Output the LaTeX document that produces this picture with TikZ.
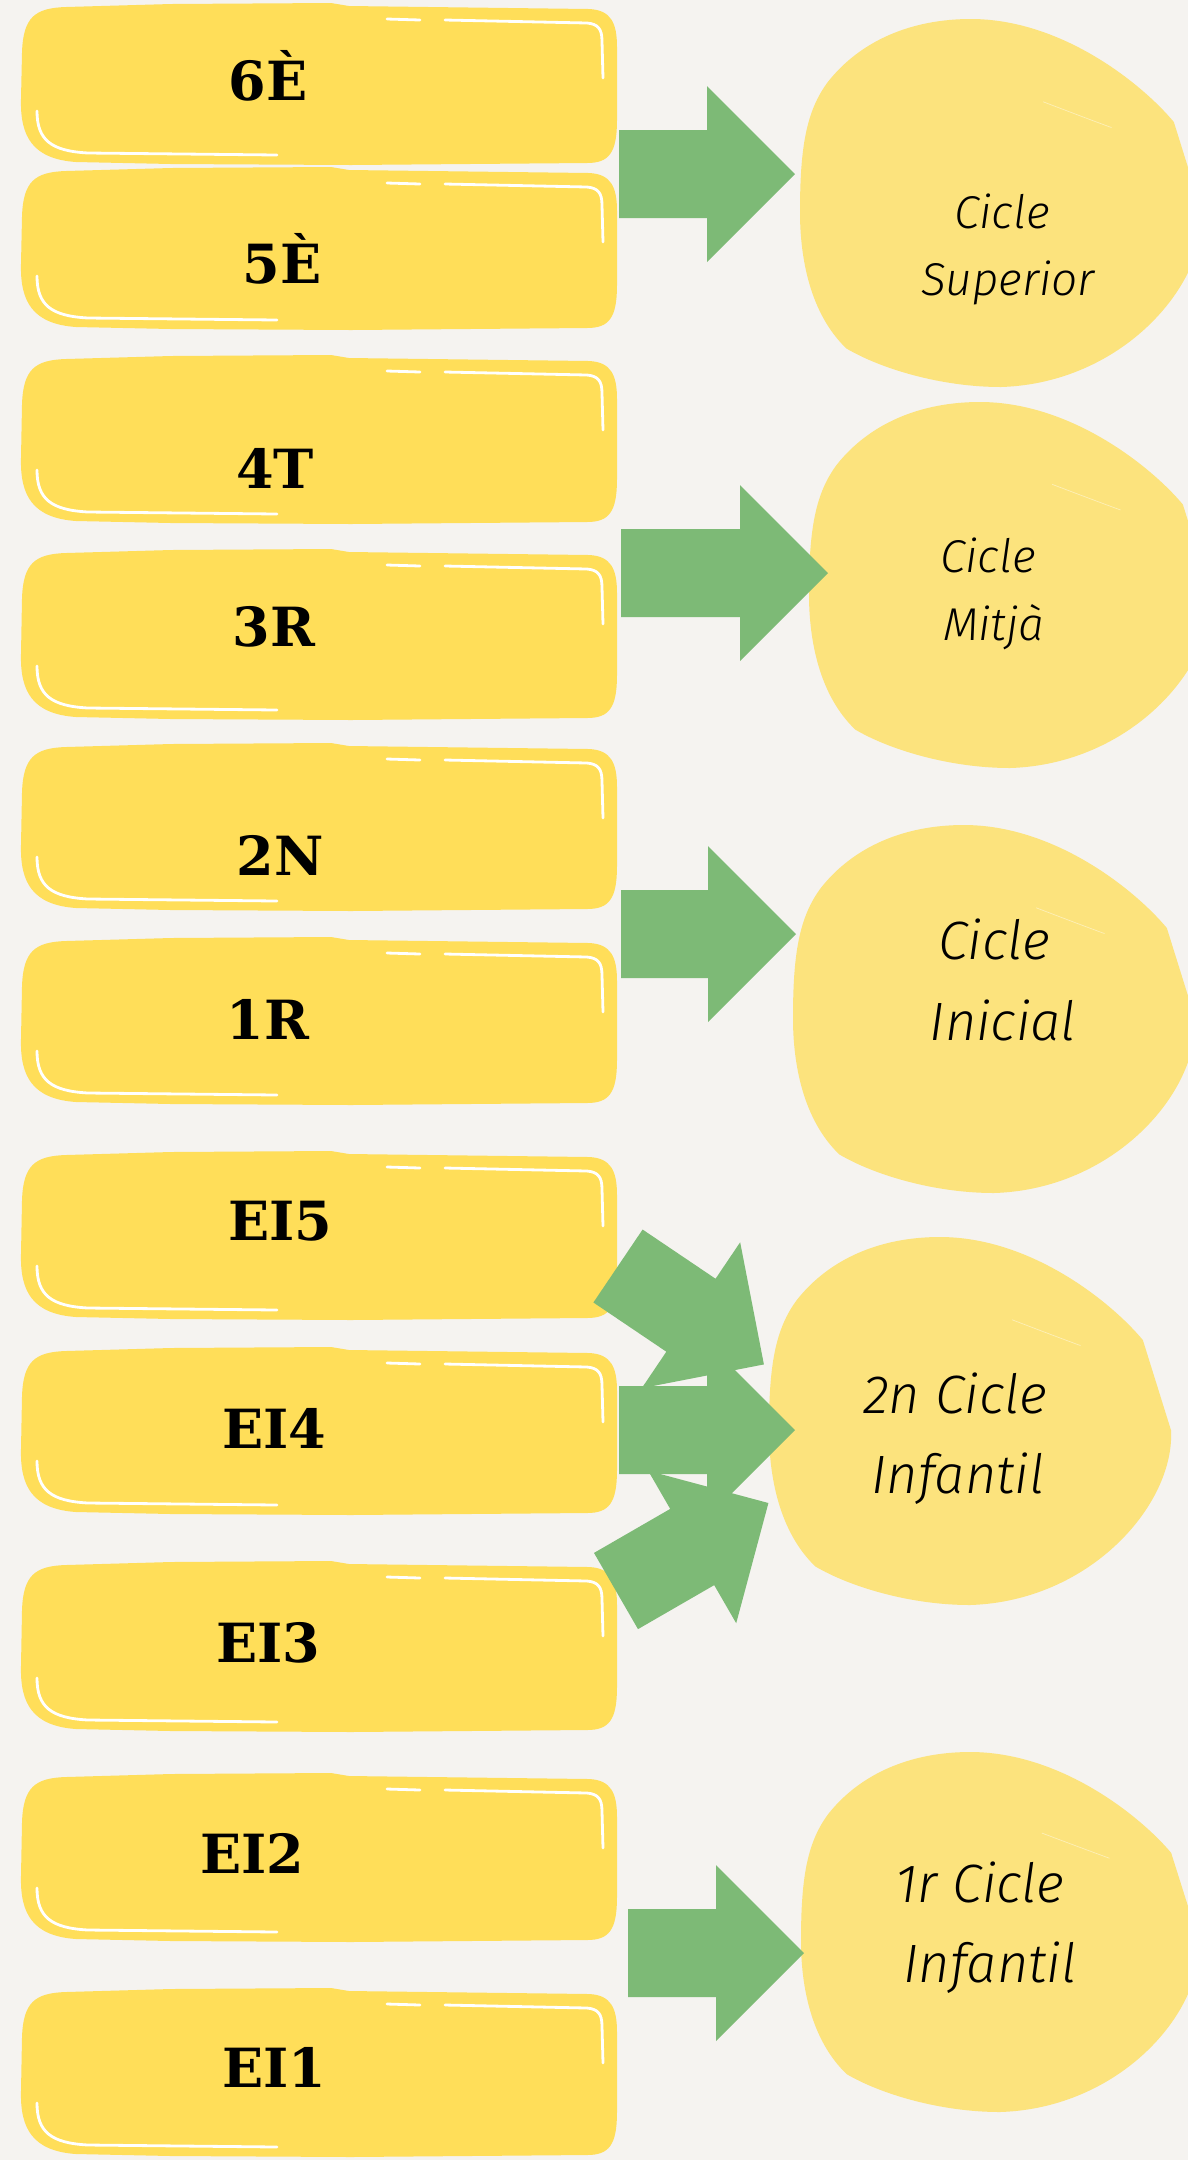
\documentclass[tikz,border=0pt]{standalone}
\usepackage{fontspec}
\newfontfamily\boxfont{DejaVu Serif}
\newfontfamily\hand{Fira Sans Light Italic}
\definecolor{paper}{HTML}{F5F3F0}
\definecolor{boxy}{HTML}{FFDE59}
\definecolor{bloby}{HTML}{FCE37D}
\definecolor{agreen}{HTML}{7DBA76}
\tikzset{
  lbl/.style={font=\boxfont\bfseries\fontsize{27}{27}\selectfont, anchor=base, inner sep=0pt},
  hsmall/.style={font=\hand\fontsize{23}{23}\selectfont, anchor=base, inner sep=0pt},
  hbig/.style={font=\hand\fontsize{27}{27}\selectfont, anchor=base, inner sep=0pt},
  hlite/.style={draw=white, line width=1.4pt, line cap=round},
}
\newcommand\ybox[3]{%
 \begin{scope}[shift={(#1,#2)}]
  \fill[boxy] (1,50) .. controls (2,14) and (14,5) .. (45,4) -- (150,1) -- (310,0) -- (328,3) -- (568,6)
    .. controls (590,7) and (596,20) .. (596,44) -- (596,{#3-45})
    .. controls (596,{#3-12}) and (588,{#3-2}) .. (566,{#3-2}) -- (330,#3) -- (150,{#3-1}) -- (55,{#3-3})
    .. controls (12,{#3-6}) and (-1,{#3-28}) .. (0,{#3-66}) -- cycle;
  \draw[hlite] (366,16) -- (399,17);
  \draw[hlite] (424,17) -- (566,20) .. controls (577,21) and (581,26) .. (581,38) -- (582,75);
  \draw[hlite] (16,{#3-54}) .. controls (16,{#3-25}) and (30,{#3-14}) .. (67,{#3-12}) -- (256,{#3-10});
 \end{scope}}
\newcommand\blobshape[4]{%
 \begin{scope}[shift={(#1,#2)}, xscale=#3, yscale=#4]
 \fill[bloby] (-0.15,-1) .. controls (0.3,-1) and (0.7,-0.65) .. (0.86,-0.44)
   -- (1,0.05) .. controls (1.02,0.45) and (0.6,0.98) .. (0,1)
   .. controls (-0.3,1) and (-0.6,0.9) .. (-0.77,0.79)
   .. controls (-0.95,0.6) and (-1,0.3) .. (-1,0.05)
   .. controls (-1,-0.3) and (-0.97,-0.5) .. (-0.86,-0.66)
   .. controls (-0.7,-0.88) and (-0.45,-1) .. (-0.15,-1) -- cycle;
 \draw[white, line width=0.35pt, opacity=0.45] (0.21,-0.55) .. controls (0.33,-0.5) and (0.45,-0.45) .. (0.55,-0.41);
 \end{scope}}
\newcommand\garrow[4]{%
 \fill[agreen, shift={(#1,#2)}, rotate=#3] (0,-44) -- (#4,-44) -- (#4,-88) -- ({#4+88},0) -- (#4,88) -- (#4,44) -- (0,44) -- cycle;}
\begin{document}
\begin{tikzpicture}[x=0.5pt,y=-0.5pt]
\useasboundingbox (0,0) rectangle (1188,2160);
\fill[paper] (0,0) rectangle (1188,2160);
\begin{scope}
\clip (0,0) rectangle (1188,2160);
% boxes
\ybox{21}{3}{162}
\ybox{21}{167}{163}
\ybox{21}{355}{169}
\ybox{21}{549}{171}
\ybox{21}{743}{168}
\ybox{21}{937}{168}
\ybox{21}{1151}{169}
\ybox{21}{1347}{168}
\ybox{21}{1561}{171}
\ybox{21}{1773}{169}
\ybox{21}{1988}{169}
% blobs
\blobshape{1001}{203}{201}{184}
\blobshape{1010}{585}{201}{183}
\blobshape{994}{1009}{201}{184}
\blobshape{970}{1421}{201}{184}
\blobshape{1000}{1932}{199}{180}
% arrows
\garrow{619}{174}{0}{88}
\garrow{621}{573}{0}{119}
\garrow{621}{934}{0}{87}
\garrow{618}{1266}{-34}{88}
\garrow{616}{1591}{30}{88}
\garrow{619}{1430}{0}{88}
\garrow{628}{1953}{0}{88}
% box labels
\node[lbl] (l6) at (268,100) {6È};
\node[lbl] (l5) at (282,283) {5È};
\node[lbl] (l4) at (275,488) {4T};
\node[lbl] (l3) at (274,646) {3R};
\node[lbl] (l2) at (280,875) {2N};
\node[lbl] (l1) at (268,1039) {1R};
\node[lbl] (e5) at (280,1240) {EI5};
\node[lbl] (e4) at (274,1448) {EI4};
\node[lbl] (e3) at (268,1662) {EI3};
\node[lbl] (e2) at (252,1873) {EI2};
\node[lbl] (e1) at (274,2087) {EI1};
% blob labels
\node[hsmall] (s1) at (1002,228) {Cicle};
\node[hsmall] (s2) at (1008,295) {Superior};
\node[hsmall] (m1) at (988,572) {Cicle};
\node[hsmall] (m2) at (994,640) {Mitjà};
\node[hbig] (i1) at (994,959) {Cicle};
\node[hbig] (i2) at (1003,1040) {Inicial};
\node[hbig] (n1) at (955,1413) {2n Cicle};
\node[hbig] (n2) at (958,1493) {Infantil};
\node[hbig] (r1) at (980,1902) {1r Cicle};
\node[hbig] (r2) at (990,1982) {Infantil};
\end{scope}
\end{tikzpicture}
\end{document}
